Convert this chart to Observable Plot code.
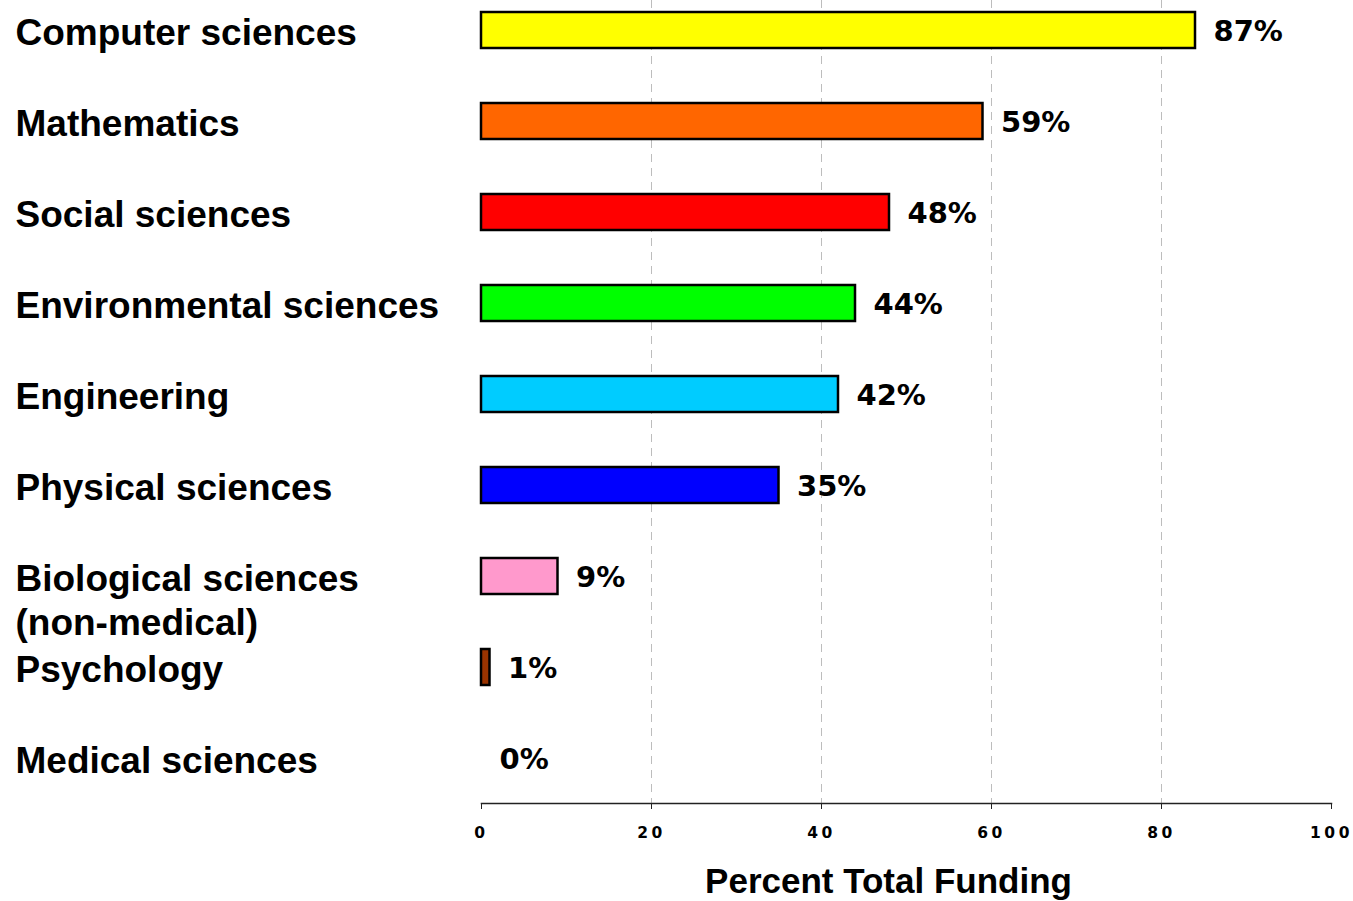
<!DOCTYPE html>
<html><head><meta charset="utf-8">
<script src="https://cdn.jsdelivr.net/npm/d3@7"></script>
<script src="https://cdn.jsdelivr.net/npm/@observablehq/plot@0.6"></script>
<style>
body{margin:0;background:#fff;}
#chart svg{font-family:"Liberation Sans",Arial,sans-serif;background:#fff;}
g[aria-label="x-axis tick label"] text{letter-spacing:3.5px;font-weight:bold;font-size:15.5px;font-family:"DejaVu Sans",Verdana,sans-serif;}
</style></head><body><div id="chart"></div>
<script>
const categories = ["Computer sciences","Mathematics","Social sciences","Environmental sciences","Engineering","Physical sciences","Biological sciences (non-medical)","Psychology","Medical sciences"];
const categoryLabels = ["Computer sciences","Mathematics","Social sciences","Environmental sciences","Engineering","Physical sciences","Biological sciences\n(non-medical)","Psychology","Medical sciences"];
const barValues = [84,59,48,44,42,35,9,1,0];
const valueLabels = ["87%","59%","48%","44%","42%","35%","9%","1%","0%"];
const barColors = ["#ffff00","#ff6600","#ff0000","#00ff00","#00ccff","#0000ff","#ff99cc","#993300","#cccccc"];
const xTicks = [0,20,40,60,80,100];
const gridTicks = [20,40,60,80];
const axisTitle = "Percent Total Funding";

const data = categories.map((c,i)=>({category:c, label:categoryLabels[i], value:barValues[i], text:valueLabels[i], color:barColors[i]}));

const chart = Plot.plot({
  width: 1353, height: 901,
  marginLeft: 481, marginRight: 22, marginTop: 0, marginBottom: 98,
  style: {fontFamily: '"Liberation Sans",Arial,sans-serif', background: "#fff"},
  x: {domain: [0,100], axis: null},
  y: {type: "band", domain: categories, range: [-17.75, 805.75], paddingInner: 0.6, paddingOuter: 0.3, axis: null},
  color: {type: "identity"},
  marks: [
    Plot.ruleX(gridTicks, {stroke: "#bdbdbd", strokeDasharray: "8,6", strokeWidth: 1}),
    Plot.barX(data.filter(d => d.value > 0), {x: "value", y: "category", fill: d => d.color, stroke: "#000", strokeWidth: 2.5}),
    Plot.text(data, {x: "value", y: "category", text: "text", textAnchor: "start", dx: 18, dy: 1, fontSize: 29, fontWeight: "bold", fontFamily: '"DejaVu Sans",Verdana,sans-serif', fill: "#000"}),
    Plot.text(data, {y: "category", text: "label", frameAnchor: "left", textAnchor: "start", dx: -466, lineAnchor: "top", lineHeight: 1.2, dy: -17, fontSize: 37, fontWeight: "bold", fill: "#000"}),
    Plot.frame({anchor: "bottom", stroke: "#222", strokeWidth: 1.5}),
    Plot.axisX(xTicks, {anchor: "bottom", ticks: xTicks, tickSize: 6, tickPadding: 17, fontSize: 15.5, label: null, stroke: "#222"}),
    Plot.text([axisTitle], {frameAnchor: "bottom", dx: -18, dy: 89, fontSize: 35, fontWeight: "bold", fill: "#000"})
  ]
});
document.getElementById("chart").appendChild(chart);
</script></body></html>
